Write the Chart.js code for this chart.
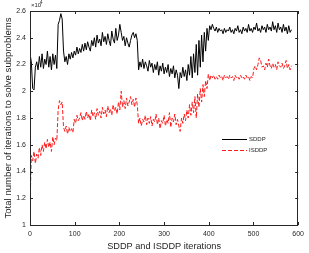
<!DOCTYPE html>
<html>
<head>
<meta charset="utf-8">
<script src="https://cdn.jsdelivr.net/npm/chart.js@4"></script>
<style>
  html, body { margin: 0; padding: 0; background: #fff; }
  canvas { display: block; }
</style>
</head>
<body>
<canvas id="chart" width="309" height="253"></canvas>
<script>
// iterations are sampled every 3 steps: 0, 3, 6, ... 585
const STEP = 3;

// values in units of 10^4
const sddp = [
  2.28, 2.22, 2.02, 2.01, 2.18, 2.22, 2.16, 2.26, 2.18, 2.28,
  2.17, 2.24, 2.20, 2.30, 2.18, 2.26, 2.16, 2.28, 2.20, 2.27,
  2.17, 2.50, 2.53, 2.58, 2.54, 2.30, 2.22, 2.26, 2.20, 2.28,
  2.24, 2.29, 2.25, 2.30, 2.27, 2.33, 2.28, 2.32, 2.29, 2.35,
  2.30, 2.36, 2.31, 2.37, 2.33, 2.30, 2.38, 2.34, 2.40, 2.33,
  2.42, 2.36, 2.39, 2.34, 2.44, 2.37, 2.41, 2.35, 2.43, 2.38,
  2.34, 2.45, 2.39, 2.36, 2.47, 2.38, 2.42, 2.50, 2.44, 2.38,
  2.41, 2.34, 2.40, 2.36, 2.33, 2.38, 2.42, 2.44, 2.40, 2.43,
  2.38, 2.16, 2.22, 2.18, 2.24, 2.17, 2.22, 2.19, 2.15, 2.23,
  2.18, 2.21, 2.14, 2.20, 2.16, 2.22, 2.12, 2.19, 2.15, 2.21,
  2.13, 2.18, 2.14, 2.20, 2.11, 2.17, 2.13, 2.19, 2.10, 2.16,
  2.12, 2.02, 2.14, 2.10, 2.18, 2.11, 2.16, 2.08, 2.20, 2.12,
  2.26, 2.10, 2.28, 2.14, 2.35, 2.12, 2.38, 2.18, 2.42, 2.22,
  2.44, 2.30, 2.47, 2.38, 2.49, 2.46, 2.50, 2.47, 2.45, 2.48,
  2.44, 2.47, 2.45, 2.46, 2.43, 2.47, 2.44, 2.46, 2.45, 2.48,
  2.44, 2.46, 2.43, 2.47, 2.45, 2.49, 2.44, 2.46, 2.43, 2.48,
  2.45, 2.47, 2.44, 2.50, 2.45, 2.47, 2.44, 2.48, 2.46, 2.51,
  2.45, 2.47, 2.44, 2.49, 2.46, 2.48, 2.44, 2.50, 2.46, 2.48,
  2.45, 2.52, 2.46, 2.49, 2.44, 2.51, 2.46, 2.48, 2.44, 2.50,
  2.45, 2.48, 2.43, 2.49, 2.44, 2.46
];

const isddp = [
  1.15, 1.52, 1.48, 1.55, 1.46, 1.53, 1.50, 1.58, 1.52, 1.60,
  1.55, 1.62, 1.57, 1.64, 1.58, 1.62, 1.55, 1.66, 1.60, 1.65,
  1.63, 1.86, 1.93, 1.90, 1.92, 1.73, 1.70, 1.74, 1.68, 1.73,
  1.70, 1.72, 1.69, 1.79, 1.76, 1.82, 1.78, 1.80, 1.84, 1.78,
  1.82, 1.79, 1.85, 1.80, 1.83, 1.78, 1.86, 1.81, 1.84, 1.79,
  1.87, 1.82, 1.85, 1.80, 1.88, 1.83, 1.86, 1.81, 1.89, 1.84,
  1.87, 1.82, 1.90, 1.85, 1.88, 1.83, 1.92, 1.86, 2.00, 1.88,
  1.93, 1.87, 1.95, 1.89, 1.92, 1.96, 1.90, 1.94, 1.88, 1.95,
  1.90, 1.76, 1.80, 1.74, 1.79, 1.77, 1.82, 1.75, 1.80, 1.76,
  1.81, 1.74, 1.79, 1.77, 1.83, 1.75, 1.80, 1.72, 1.78, 1.76,
  1.82, 1.74, 1.79, 1.76, 1.84, 1.73, 1.80, 1.77, 1.83, 1.75,
  1.79, 1.74, 1.70, 1.80, 1.76, 1.83, 1.78, 1.86, 1.80, 1.90,
  1.82, 1.92, 1.84, 1.96, 1.80, 1.98, 1.88, 2.02, 1.92, 2.05,
  1.96, 2.08, 2.02, 2.13, 2.08, 2.12, 2.10, 2.12, 2.09, 2.11,
  2.09, 2.12, 2.10, 2.11, 2.08, 2.12, 2.10, 2.11, 2.09, 2.12,
  2.10, 2.11, 2.08, 2.12, 2.10, 2.11, 2.09, 2.12, 2.10, 2.11,
  2.09, 2.12, 2.10, 2.11, 2.08, 2.11, 2.10, 2.17, 2.19, 2.16,
  2.20, 2.25, 2.23, 2.18, 2.19, 2.16, 2.21, 2.18, 2.24, 2.19,
  2.17, 2.21, 2.18, 2.20, 2.16, 2.22, 2.19, 2.18, 2.21, 2.17,
  2.19, 2.23, 2.17, 2.20, 2.16, 2.19
];

const xTicks = [0, 100, 200, 300, 400, 500, 600];
const yTicks = [1, 1.2, 1.4, 1.6, 1.8, 2, 2.2, 2.4, 2.6];

const xTitle = 'SDDP and ISDDP iterations';
const yTitle = 'Total number of iterations to solve subproblems';
const seriesNames = ['SDDP', 'ISDDP'];

const FONT = '"Liberation Sans", Arial, sans-serif';
const AXIS = '#262626';

const toPoints = arr => arr.map((v, i) => ({ x: i * STEP, y: v }));

// axis box, inward ticks, titles, exponent and legend (MATLAB look)
const decor = {
  id: 'decor',
  afterDraw(chart) {
    const { ctx, chartArea: a, scales } = chart;
    ctx.save();
    ctx.strokeStyle = AXIS;
    ctx.lineWidth = 1;
    ctx.strokeRect(Math.round(a.left) + 0.5, Math.round(a.top) + 0.5,
      Math.round(a.right - a.left) - 1, Math.round(a.bottom - a.top));

    ctx.beginPath();
    xTicks.forEach(t => {
      const x = Math.round(scales.x.getPixelForValue(t)) + 0.5;
      ctx.moveTo(x, a.bottom); ctx.lineTo(x, a.bottom - 3);
      ctx.moveTo(x, a.top); ctx.lineTo(x, a.top + 3);
    });
    yTicks.forEach(t => {
      const y = Math.round(scales.y.getPixelForValue(t)) + 0.5;
      ctx.moveTo(a.left, y); ctx.lineTo(a.left + 3, y);
      ctx.moveTo(a.right, y); ctx.lineTo(a.right - 3, y);
    });
    ctx.stroke();

    ctx.fillStyle = AXIS;
    ctx.textBaseline = 'middle';
    ctx.textAlign = 'center';
    ctx.font = '9.2px ' + FONT;
    ctx.fillText(xTitle, (a.left + a.right) / 2, 246);

    ctx.save();
    ctx.translate(8, (a.top + a.bottom) / 2);
    ctx.rotate(-Math.PI / 2);
    ctx.font = '9.6px ' + FONT;
    ctx.fillText(yTitle, 0, 0);
    ctx.restore();

    ctx.textAlign = 'left';
    ctx.font = '6px ' + FONT;
    ctx.fillText('\u00d710', a.left + 1, 5.5);
    ctx.font = '4.5px ' + FONT;
    ctx.fillText('4', a.left + 10, 2.5);

    // legend
    chart.data.datasets.forEach((ds, i) => {
      const y = 139.5 + i * 11;
      ctx.strokeStyle = ds.borderColor;
      ctx.setLineDash(ds.borderDash || []);
      ctx.beginPath();
      ctx.moveTo(222, y); ctx.lineTo(247, y);
      ctx.stroke();
      ctx.setLineDash([]);
      ctx.fillStyle = AXIS;
      ctx.font = '6px ' + FONT;
      ctx.fillText(seriesNames[i], 249, y);
    });
    ctx.restore();
  }
};

new Chart(document.getElementById('chart'), {
  type: 'line',
  data: {
    datasets: [
      {
        label: seriesNames[0],
        data: toPoints(sddp),
        borderColor: '#000000',
        borderWidth: 1,
        pointRadius: 0,
        tension: 0
      },
      {
        label: seriesNames[1],
        data: toPoints(isddp),
        borderColor: '#ff1a1a',
        borderWidth: 1,
        borderDash: [4, 2],
        pointRadius: 0,
        tension: 0
      }
    ]
  },
  options: {
    responsive: false,
    devicePixelRatio: 1,
    animation: false,
    layout: { padding: { left: 0, top: 11, right: 7, bottom: 0 } },
    plugins: {
      legend: { display: false },
      tooltip: { enabled: false }
    },
    scales: {
      x: {
        type: 'linear',
        min: 0,
        max: 600,
        afterBuildTicks: s => { s.ticks = xTicks.map(v => ({ value: v })); },
        afterFit: s => { s.height = 28; },
        grid: { display: false, drawTicks: false, tickLength: 0 },
        border: { display: false },
        ticks: { font: { family: FONT, size: 7 }, color: AXIS, padding: 5, maxRotation: 0 }
      },
      y: {
        min: 1,
        max: 2.6,
        afterBuildTicks: s => { s.ticks = yTicks.map(v => ({ value: v })); },
        afterFit: s => { s.width = 30; },
        grid: { display: false, drawTicks: false, tickLength: 0 },
        border: { display: false },
        ticks: {
          font: { family: FONT, size: 7 },
          color: AXIS,
          padding: 4,
          callback: v => String(parseFloat(v.toFixed(1)))
        }
      }
    }
  },
  plugins: [decor]
});
</script>
</body>
</html>
